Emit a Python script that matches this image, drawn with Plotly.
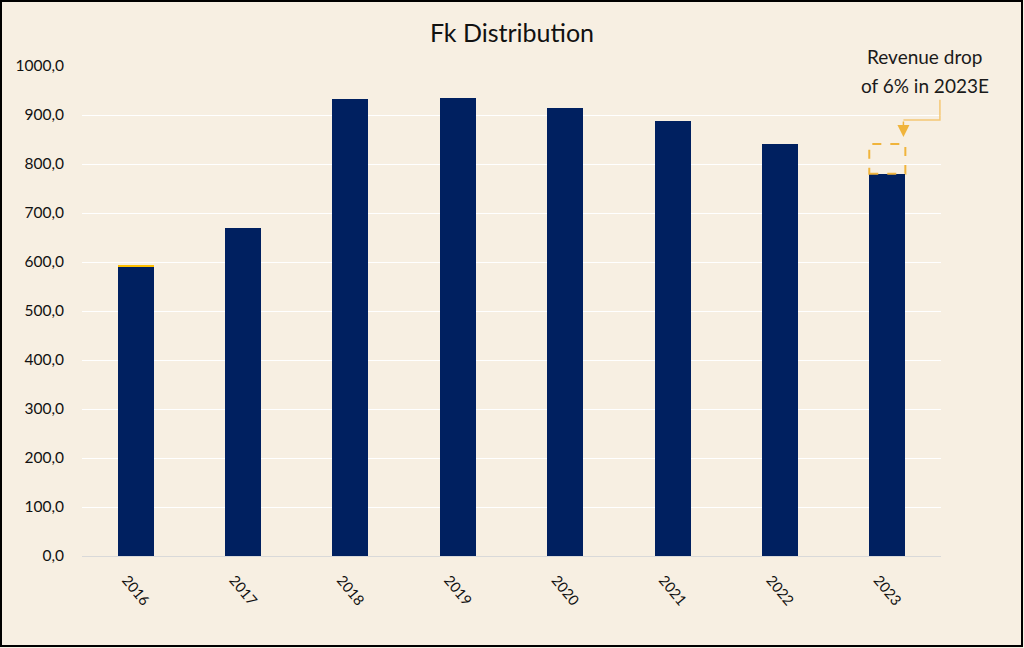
import plotly.graph_objects as go

years = ["2016", "2017", "2018", "2019", "2020", "2021", "2022", "2023"]
revenue = [590, 669, 932, 935, 914, 888, 841, 780]
highlight = [4, 0, 0, 0, 0, 0, 0, 0]
y_ticks = [0, 100, 200, 300, 400, 500, 600, 700, 800, 900, 1000]
title_text = "Fk Distribution"
note_lines = ["Revenue drop", "of 6% in 2023E"]

BG = "#F7EFE2"
NAVY = "#002060"
GOLD = "#F0B43C"
FONT = "Lato"

fig = go.Figure()
fig.add_trace(go.Bar(x=years, y=revenue, marker=dict(color=NAVY, line=dict(width=0)),
                     hoverinfo="skip", showlegend=False))
fig.add_trace(go.Bar(x=years, y=highlight, marker=dict(color="#FFC000", line=dict(width=0)),
                     hoverinfo="skip", showlegend=False))

last = len(years) - 1
half = 0.168
# dashed box showing the drop
fig.add_shape(type="rect", xref="x", yref="y",
              x0=last - half, x1=last + half, y0=revenue[last], y1=revenue[last - 1],
              line=dict(color=GOLD, width=2, dash="dash"), fillcolor="rgba(0,0,0,0)", layer="above")
# elbow connector
fig.add_shape(type="path", xref="x", yref="y",
              path=f"M {last + 0.49},931 L {last + 0.49},890 L {last + 0.15},890",
              line=dict(color="#F5C874", width=1.5))
fig.add_annotation(x=last + 0.15, y=revenue[last - 1] + 14, xref="x", yref="y",
                   ax=last + 0.15, ay=890, axref="x", ayref="y", text="",
                   showarrow=True, arrowhead=2, arrowsize=1.6, arrowwidth=1.5, arrowcolor=GOLD)
for i, line in enumerate(note_lines):
    fig.add_annotation(x=last + 0.35, y=1.0204 - 0.0592 * i, xref="x", yref="paper", text=line,
                       showarrow=False, yanchor="middle", align="center",
                       font=dict(family=FONT, size=19, color="#1a1a1a"))

# outer border
fig.add_shape(type="rect", xref="paper", yref="paper",
              x0=(1 - 82) / 859, x1=(1022 - 82) / 859, y0=(556 - 646) / 490, y1=(556 - 1) / 490,
              line=dict(color="black", width=2), fillcolor="rgba(0,0,0,0)")

fig.update_layout(
    width=1024, height=648,
    margin=dict(l=82, r=83, t=66, b=92),
    paper_bgcolor=BG, plot_bgcolor=BG,
    barmode="stack", bargap=0.665,
    separators=",.",
    title=dict(text=title_text, x=0.5, xanchor="center", y=0.948, yanchor="middle",
               font=dict(family=FONT, size=25, color="#111111")),
    font=dict(family=FONT, color="#111111"),
    xaxis=dict(type="category", range=[-0.5, len(years) - 0.5], tickangle=50,
               tickfont=dict(size=14.5, color="#111111"),
               ticks="outside", ticklen=9, tickcolor=BG, ticklabelshift=-9, showgrid=False,
               showline=True, linecolor="#D9D9D9", linewidth=1),
    yaxis=dict(range=[0, 1000], tickvals=y_ticks, tickformat=".1f",
               tickfont=dict(size=15.5, color="#111111"),
               ticks="outside", ticklen=14, tickcolor=BG,
               showgrid=True, gridcolor="white", gridwidth=1, zeroline=False),
)

fig.write_html("out.html", config={"displayModeBar": False},
               post_script="document.body.style.margin='0';document.body.style.overflow='hidden';")
